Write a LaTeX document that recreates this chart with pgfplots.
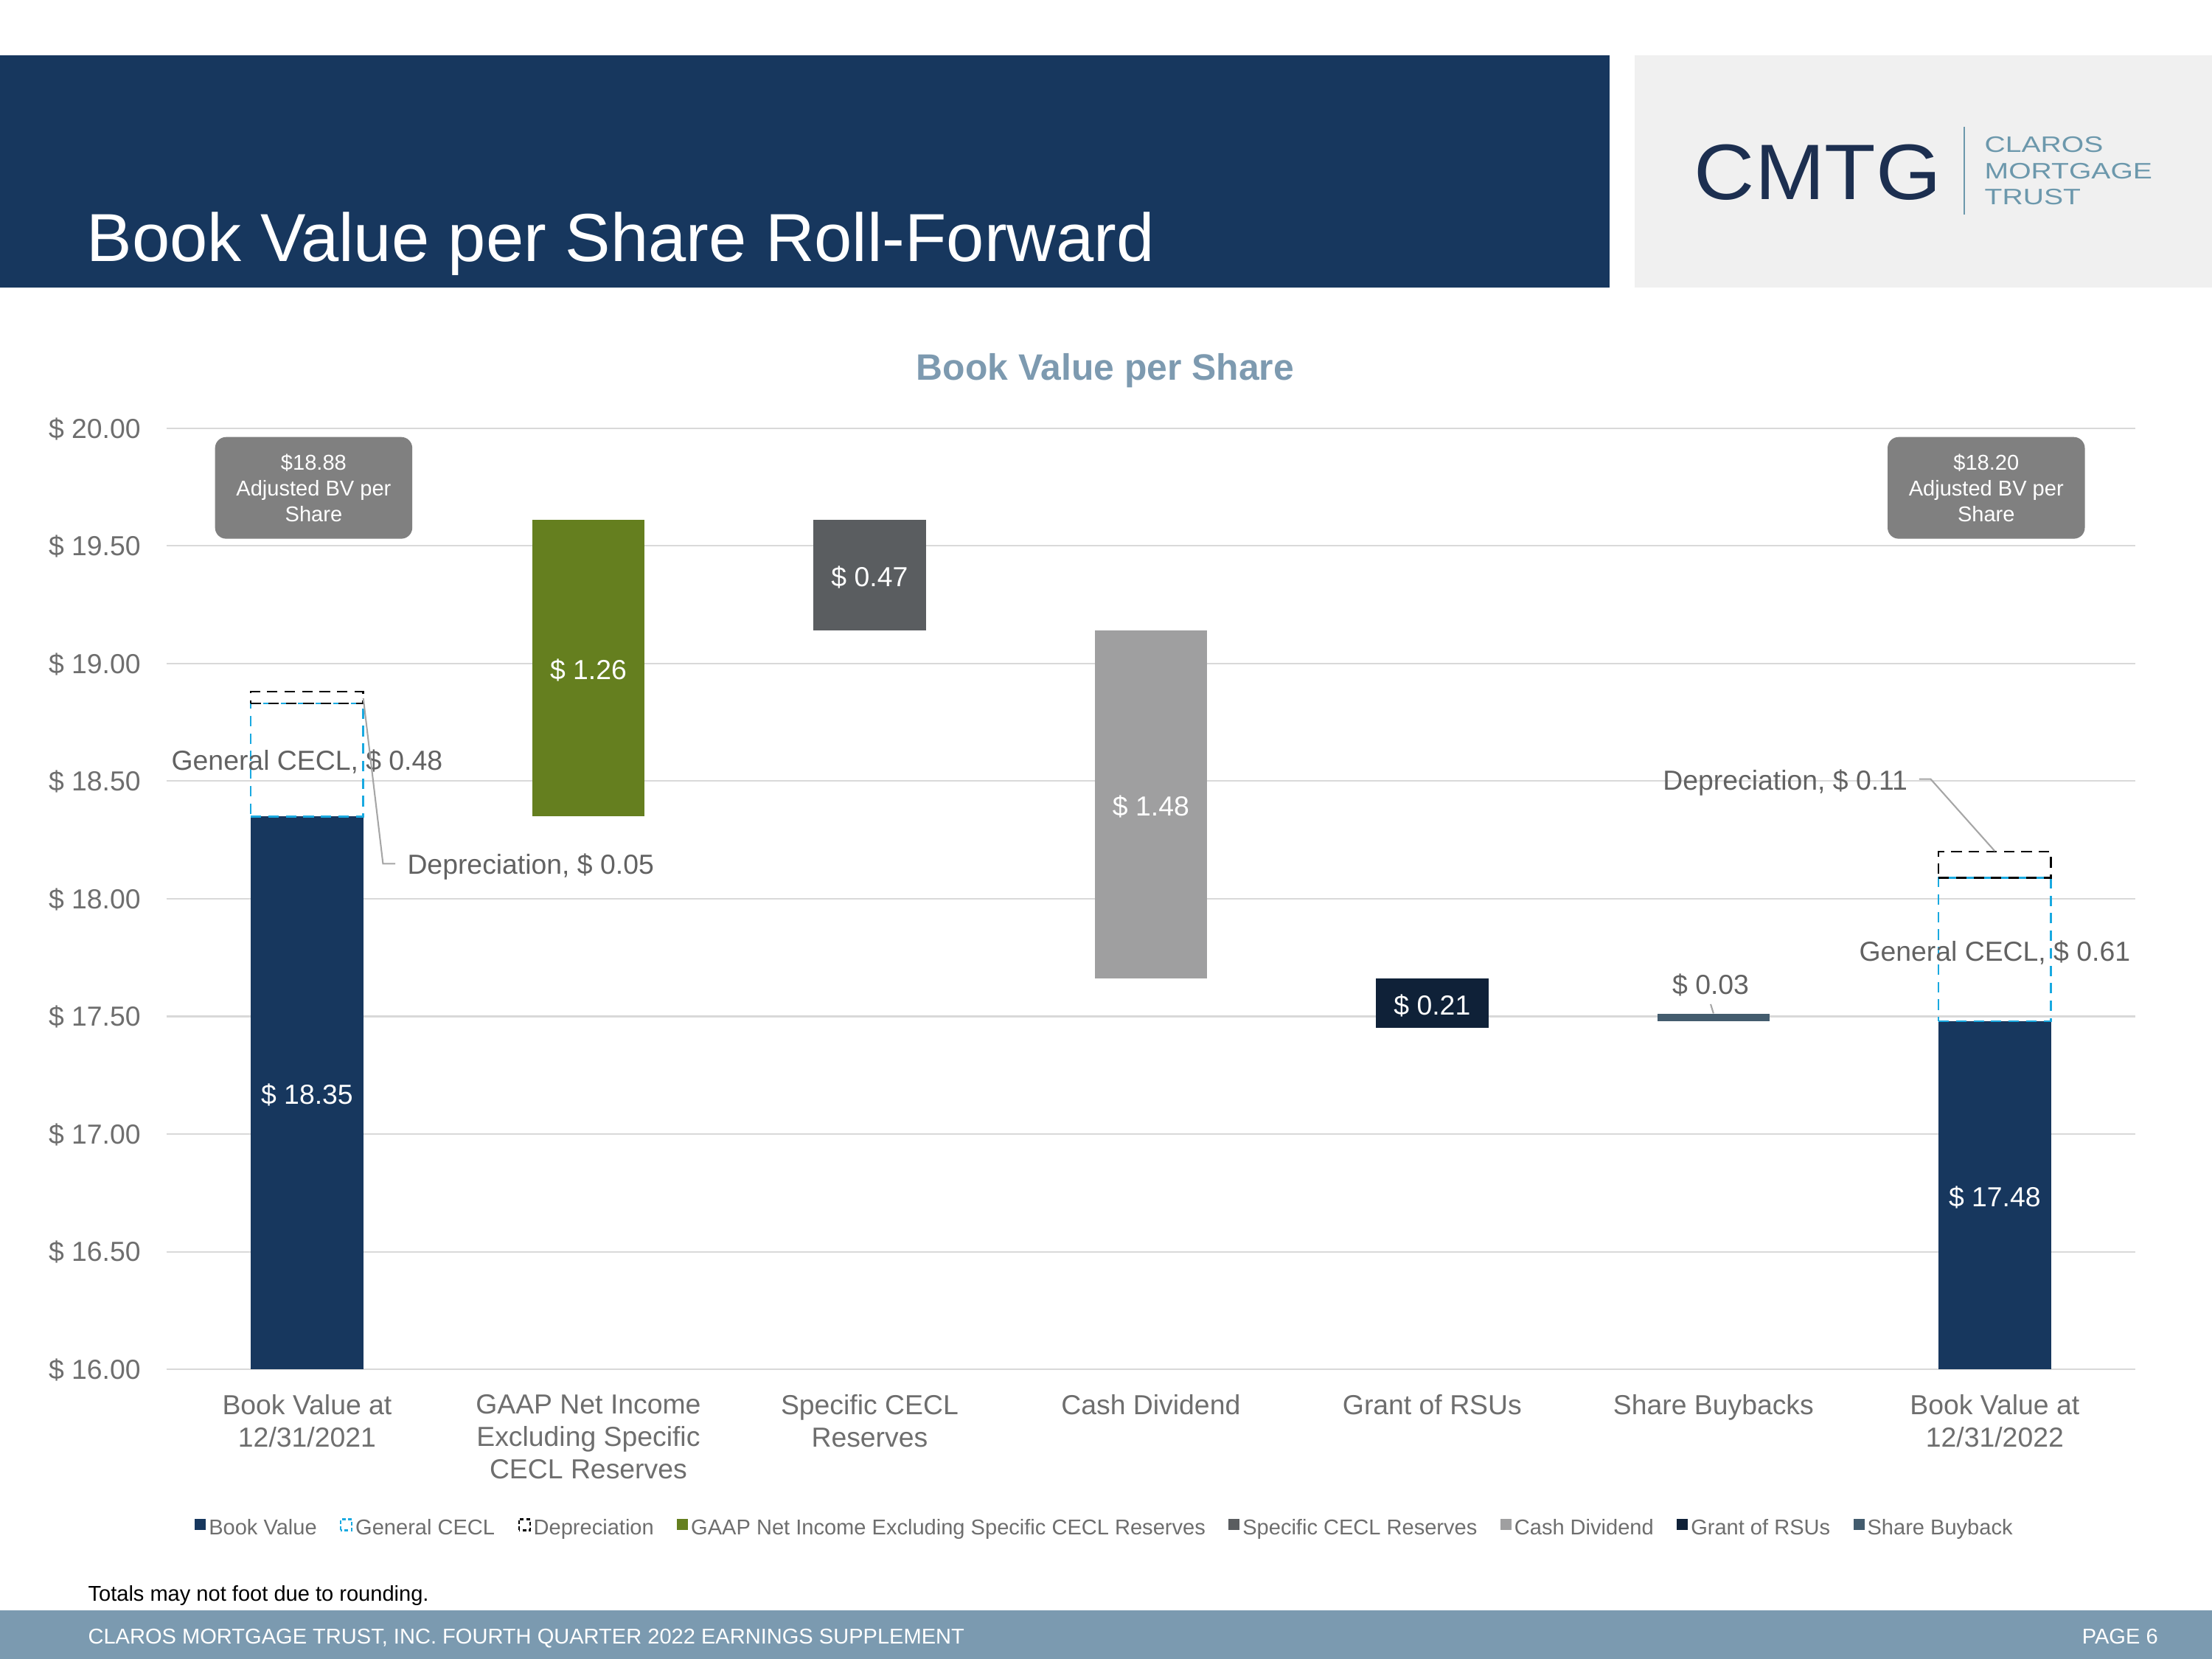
\documentclass[border=0pt]{standalone}
\usepackage{fontspec}
\setmainfont{Liberation Sans}
\usepackage{graphicx}
\usepackage{pgfplots}
\pgfplotsset{compat=1.18}

\definecolor{bvnavy}{HTML}{17375E}
\definecolor{cecl}{HTML}{19A9E0}
\definecolor{gaap}{HTML}{657F1F}
\definecolor{spec}{HTML}{5A5D60}
\definecolor{cash}{HTML}{9F9FA0}
\definecolor{rsu}{HTML}{0F2138}
\definecolor{buy}{HTML}{435C6E}
\definecolor{hdr}{HTML}{17375E}
\definecolor{logobg}{HTML}{F0F0F0}
\definecolor{logonavy}{HTML}{1C2F50}
\definecolor{logoteal}{HTML}{6C98AC}
\definecolor{ctitle}{HTML}{7D9AB0}
\definecolor{foot}{HTML}{7B9AB0}
\definecolor{txtgray}{HTML}{6E6E6E}
\definecolor{lblgray}{HTML}{626262}
\definecolor{gridc}{HTML}{D9D9D9}
\definecolor{callout}{HTML}{808080}
\definecolor{leader}{HTML}{A6A6A6}

\newcommand{\lblfont}{\fontsize{9}{10}\selectfont}

\begin{document}
\begin{tikzpicture}
\useasboundingbox (0,0) rectangle (720bp,-540bp);
\fill[white] (0,0) rectangle (720bp,-540bp);
% header
\fill[hdr] (0,-17.9bp) rectangle (523.9bp,-93.7bp);
\fill[logobg] (532.1bp,-17.9bp) rectangle (720bp,-93.7bp);
\node[anchor=base west, inner sep=0pt, text=white, font=\fontsize{22.2}{26}\selectfont] at (28.1bp,-85bp) {Book Value per Share Roll-Forward};
\node[anchor=base west, inner sep=0pt, text=logonavy, font=\fontsize{25.7}{30}\selectfont] at (551.3bp,-64.8bp) {\scalebox{1.067}[1]{CMTG}};
\draw[logoteal, line width=0.5bp] (639.4bp,-41.2bp) -- (639.4bp,-69.8bp);
\node[anchor=base west, inner sep=0pt, text=logoteal, font=\fontsize{7.3}{7.5}\selectfont] at (645.8bp,-49.6bp) {\scalebox{1.29}[1]{CLAROS}};
\node[anchor=base west, inner sep=0pt, text=logoteal, font=\fontsize{7.3}{7.5}\selectfont] at (645.8bp,-58.2bp) {\scalebox{1.29}[1]{MORTGAGE}};
\node[anchor=base west, inner sep=0pt, text=logoteal, font=\fontsize{7.3}{7.5}\selectfont] at (645.8bp,-66.6bp) {\scalebox{1.29}[1]{TRUST}};
% chart title
\node[anchor=base, inner sep=0pt, text=ctitle, font=\fontsize{12}{14}\selectfont\bfseries] at (359.7bp,-123.6bp) {Book Value per Share};

\begin{axis}[
  at={(54.17bp,-445.7bp)}, anchor=south west,
  scale only axis, width=640.9bp, height=306.3bp,
  xmin=-0.5, xmax=6.5, ymin=16, ymax=20,
  clip=false,
  axis line style={draw=none},
  major tick length=0pt,
  tick style={draw=none},
  ymajorgrids, grid style={gridc, line width=0.5bp},
  ytick={16,16.5,17,17.5,18,18.5,19,19.5,20},
  yticklabels={\$ 16.00,\$ 16.50,\$ 17.00,\$ 17.50,\$ 18.00,\$ 18.50,\$ 19.00,\$ 19.50,\$ 20.00},
  yticklabel style={anchor=base east, inner sep=0pt, xshift=-8.2bp, yshift=-3.2bp, font=\fontsize{9}{10}\selectfont, text=txtgray},
  xtick={0,1,2,3,4,5,6},
  xticklabels={{Book Value at\\12/31/2021},{GAAP Net Income\\Excluding Specific\\CECL Reserves},{Specific CECL\\Reserves},{Cash Dividend},{Grant of RSUs},{Share Buybacks},{Book Value at\\12/31/2022}},
  xticklabel style={anchor=north, inner sep=0pt, yshift=-7.95bp, align=center, font=\fontsize{9}{10.6}\selectfont, text=txtgray},
  legend style={at={(0.4768,-0.1698)}, anchor=center, draw=none, fill=none, legend columns=-1,
    font=\fontsize{7}{8}\selectfont, text=txtgray, inner sep=0pt,
    /tikz/every even column/.append style={column sep=6.6bp},
    nodes={inner sep=0.95bp}},
  legend image code/.code={\path[#1, line width=0.5bp, dash pattern=on 1.2bp off 0.8bp] (0bp,-0.4bp) rectangle (3.6bp,3.2bp);},
]
% Book Value
\addplot[fill=bvnavy, draw=none] coordinates {(-0.2,16) (0.2,16) (0.2,18.35) (-0.2,18.35)};
\addlegendentry{Book Value}
\addplot[fill=bvnavy, draw=none, forget plot] coordinates {(5.8,16) (6.2,16) (6.2,17.48) (5.8,17.48)};
% General CECL
\addplot[draw=cecl, fill=none, dash pattern=on 3.4bp off 2.3bp, line width=0.6bp] coordinates {(-0.2,18.35) (0.2,18.35) (0.2,18.83) (-0.2,18.83) (-0.2,18.35)};
\addlegendentry{General CECL}
\addplot[draw=cecl, fill=none, dash pattern=on 3.4bp off 2.3bp, line width=0.6bp, forget plot] coordinates {(5.8,17.48) (6.2,17.48) (6.2,18.09) (5.8,18.09) (5.8,17.48)};
% Depreciation
\addplot[draw=black, fill=none, dash pattern=on 3.4bp off 2.3bp, line width=0.6bp] coordinates {(-0.2,18.83) (0.2,18.83) (0.2,18.88) (-0.2,18.88) (-0.2,18.83)};
\addlegendentry{Depreciation}
\addplot[draw=black, fill=none, dash pattern=on 3.4bp off 2.3bp, line width=0.6bp, forget plot] coordinates {(5.8,18.09) (6.2,18.09) (6.2,18.20) (5.8,18.20) (5.8,18.09)};
% GAAP
\addplot[fill=gaap, draw=none] coordinates {(0.8,18.35) (1.2,18.35) (1.2,19.61) (0.8,19.61)};
\addlegendentry{GAAP Net Income Excluding Specific CECL Reserves}
% Specific CECL
\addplot[fill=spec, draw=none] coordinates {(1.8,19.14) (2.2,19.14) (2.2,19.61) (1.8,19.61)};
\addlegendentry{Specific CECL Reserves}
% Cash dividend
\addplot[fill=cash, draw=none] coordinates {(2.8,17.66) (3.2,17.66) (3.2,19.14) (2.8,19.14)};
\addlegendentry{Cash Dividend}
% RSUs
\addplot[fill=rsu, draw=none] coordinates {(3.8,17.45) (4.2,17.45) (4.2,17.66) (3.8,17.66)};
\addlegendentry{Grant of RSUs}
% Buyback
\addplot[fill=buy, draw=none] coordinates {(4.8,17.48) (5.2,17.48) (5.2,17.51) (4.8,17.51)};
\addlegendentry{Share Buyback}

% data labels
\node[text=white, font=\lblfont, yshift=-0.6bp] at (axis cs:0,17.175) {\$ 18.35};
\node[text=white, font=\lblfont, yshift=-0.6bp] at (axis cs:1,18.98) {\$ 1.26};
\node[text=white, font=\lblfont, yshift=-0.6bp] at (axis cs:2,19.375) {\$ 0.47};
\node[text=white, font=\lblfont, yshift=-0.6bp] at (axis cs:3,18.40) {\$ 1.48};
\node[text=white, font=\lblfont, yshift=-0.6bp] at (axis cs:4,17.555) {\$ 0.21};
\node[text=white, font=\lblfont, yshift=-0.6bp] at (axis cs:6,16.74) {\$ 17.48};
\node[text=lblgray, font=\lblfont, yshift=-0.6bp] at (axis cs:4.99,17.64) {\$ 0.03};
\draw[leader, line width=0.5bp] (axis cs:4.99,17.552) -- (axis cs:5.0,17.513);
\node[text=lblgray, font=\lblfont, yshift=-0.6bp] at (axis cs:0,18.59) {General CECL, \$ 0.48};
\node[text=lblgray, font=\lblfont, yshift=-0.6bp] at (axis cs:6,17.78) {General CECL, \$ 0.61};
\node[text=lblgray, font=\lblfont, anchor=west, inner sep=0pt, yshift=-0.6bp] at (axis cs:0.3545,18.145) {Depreciation, \$ 0.05};
\draw[leader, line width=0.5bp] (axis cs:0.2,18.852) -- (axis cs:0.27,18.149) -- (axis cs:0.314,18.149);
\node[text=lblgray, font=\lblfont, anchor=east, inner sep=0pt, yshift=-0.6bp] at (axis cs:5.692,18.502) {Depreciation, \$ 0.11};
\draw[leader, line width=0.5bp] (axis cs:5.731,18.509) -- (axis cs:5.772,18.509) -- (axis cs:6.0,18.203);
\end{axis}

% callouts
\node[fill=callout, rounded corners=3.6bp, minimum width=64.2bp, minimum height=33.1bp, inner sep=0pt, text=white, align=center, font=\fontsize{7}{8.4}\selectfont] at (102.1bp,-158.8bp) {\$18.88\\Adjusted BV per\\Share};
\node[fill=callout, rounded corners=3.6bp, minimum width=64.2bp, minimum height=33.1bp, inner sep=0pt, text=white, align=center, font=\fontsize{7}{8.4}\selectfont] at (646.5bp,-158.8bp) {\$18.20\\Adjusted BV per\\Share};

% footer
\node[anchor=base west, inner sep=0pt, text=black, font=\fontsize{7}{8}\selectfont] at (28.5bp,-521.2bp) {Totals may not foot due to rounding.};
\fill[foot] (0,-524.2bp) rectangle (720bp,-540bp);
\node[anchor=base west, inner sep=0pt, text=white, font=\fontsize{7}{8}\selectfont] at (28.5bp,-535bp) {CLAROS MORTGAGE TRUST, INC. FOURTH QUARTER 2022 EARNINGS SUPPLEMENT};
\node[anchor=base east, inner sep=0pt, text=white, font=\fontsize{7}{8}\selectfont] at (702.6bp,-535bp) {PAGE 6};
\end{tikzpicture}
\end{document}
